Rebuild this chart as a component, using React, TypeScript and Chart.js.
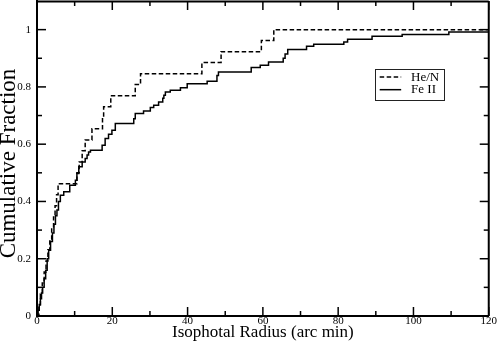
import React, { useEffect, useRef } from 'react';
import { Chart, registerables } from 'chart.js';

Chart.register(...registerables);

// He/N cumulative fraction (step positions)
const heNX = [0, 0.5, 0.9, 1.4, 1.9, 2.4, 2.9, 3.4, 3.9, 4.4, 4.8, 5.2, 5.6, 10.6, 11.2, 12.0, 12.8, 14.6, 17.4, 17.7, 19.6, 26.1, 27.5, 43.8, 48.9, 59.6, 62.9, 120];
const heNY = [0, 0.038, 0.077, 0.115, 0.154, 0.192, 0.231, 0.269, 0.308, 0.346, 0.385, 0.423, 0.462, 0.5, 0.538, 0.577, 0.615, 0.654, 0.692, 0.731, 0.769, 0.808, 0.846, 0.885, 0.923, 0.962, 1.0, 1.0];

// Fe II cumulative fraction (step positions)
const feX = [0, 0.3, 0.6, 0.9, 1.2, 1.5, 1.9, 2.3, 2.7, 3.1, 3.6, 4.1, 4.5, 4.9, 5.3, 5.7, 6.2, 7.1, 8.7, 10.2, 10.6, 11.1, 12.0, 12.8, 13.3, 13.7, 14.2, 17.3, 18.1, 19.0, 19.9, 20.8, 25.7, 26.1, 28.3, 30.1, 31.0, 32.3, 33.4, 33.7, 34.1, 35.4, 38.1, 39.9, 45.2, 47.8, 48.2, 56.9, 59.3, 61.5, 65.4, 65.9, 66.6, 71.6, 73.5, 81.5, 82.5, 89.0, 97.0, 109.4, 120];
const feY = [0, 0.02, 0.04, 0.06, 0.08, 0.1, 0.13, 0.16, 0.2, 0.23, 0.26, 0.29, 0.32, 0.35, 0.37, 0.4, 0.422, 0.434, 0.457, 0.474, 0.498, 0.521, 0.538, 0.55, 0.562, 0.573, 0.579, 0.596, 0.62, 0.635, 0.649, 0.672, 0.689, 0.707, 0.716, 0.728, 0.736, 0.747, 0.76, 0.771, 0.782, 0.788, 0.797, 0.811, 0.82, 0.84, 0.852, 0.868, 0.876, 0.887, 0.9, 0.915, 0.931, 0.942, 0.949, 0.957, 0.966, 0.977, 0.983, 0.992, 0.992];

const seriesLabels = ['He/N', 'Fe II'];
const xMajorTicks = [0, 20, 40, 60, 80, 100, 120];
const xMinorTicks = [10, 30, 50, 70, 90, 110];
const yMajorTicks = [0, 0.2, 0.4, 0.6, 0.8, 1];
const yMinorTicks = [0.1, 0.3, 0.5, 0.7, 0.9];
const xTickLabels = ['0', '20', '40', '60', '80', '100', '120'];
const yTickLabels = ['0', '0.2', '0.4', '0.6', '0.8', '1'];
const xTitle = 'Isophotal Radius (arc min)';
const yTitle = 'Cumulative Fraction';

const FONT = '"Liberation Serif", "DejaVu Serif", serif';

function resetCtx(ctx: CanvasRenderingContext2D) {
  ctx.setTransform(1, 0, 0, 1, 0, 0);
  ctx.globalAlpha = 1;
  ctx.globalCompositeOperation = 'source-over';
  ctx.setLineDash([]);
  ctx.lineDashOffset = 0;
  ctx.shadowColor = 'rgba(0,0,0,0)';
  ctx.shadowBlur = 0;
  ctx.lineCap = 'butt';
  ctx.lineJoin = 'miter';
}

const framePlugin = {
  id: 'graceFrame',
  afterDraw(chart: any) {
    const { ctx, scales } = chart;
    const x = scales.x;
    const y = scales.y;
    const L = x.getPixelForValue(0);
    const R = x.getPixelForValue(120);
    const B = y.getPixelForValue(0);
    const T = y.getPixelForValue(1.1);
    ctx.save();
    resetCtx(ctx);
    ctx.strokeStyle = '#000';
    const seg = (x1: number, y1: number, x2: number, y2: number) => {
      ctx.beginPath();
      ctx.moveTo(x1, y1);
      ctx.lineTo(x2, y2);
      ctx.stroke();
    };
    ctx.lineWidth = 1.5;
    const xt = (vals: number[], len: number) =>
      vals.forEach((v) => {
        const p = x.getPixelForValue(v);
        seg(p, B, p, B - len);
        seg(p, T, p, T + len);
      });
    const yt = (vals: number[], len: number) =>
      vals.forEach((v) => {
        const p = y.getPixelForValue(v);
        seg(L, p, L + len, p);
        seg(R, p, R - len, p);
      });
    xt(xMajorTicks, 9);
    xt(xMinorTicks, 5);
    yt(yMajorTicks, 9);
    yt(yMinorTicks, 5);
    ctx.lineWidth = 2;
    seg(L, B, R, B);
    seg(L, T + 0.5, R, T + 0.5);
    seg(L, T, L, B);
    seg(R, T, R, B);
    ctx.restore();
  },
};

const legendPlugin = {
  id: 'graceLegend',
  afterDatasetsDraw(chart: any) {
    const { ctx, scales } = chart;
    const x = scales.x;
    const y = scales.y;
    ctx.save();
    resetCtx(ctx);
    const seg = (x1: number, y1: number, x2: number, y2: number) => {
      ctx.beginPath();
      ctx.moveTo(x1, y1);
      ctx.lineTo(x2, y2);
      ctx.stroke();
    };
    const bx = x.getPixelForValue(89.7);
    const by = y.getPixelForValue(0.864);
    const bw = 69;
    const bh = 31;
    ctx.lineWidth = 1;
    ctx.strokeStyle = '#222';
    ctx.strokeRect(Math.round(bx) + 0.5, Math.round(by) + 0.5, bw, bh);
    ctx.font = `13px ${FONT}`;
    ctx.fillStyle = '#000';
    ctx.textBaseline = 'middle';
    ctx.textAlign = 'left';
    chart.data.datasets.forEach((ds: any, i: number) => {
      const ly = by + 8.5 + i * 12.6;
      ctx.strokeStyle = '#000';
      ctx.lineWidth = 1.5;
      ctx.setLineDash(ds.borderDash || []);
      seg(bx + 5, ly, bx + 26.5, ly);
      ctx.setLineDash([]);
      ctx.fillText(ds.label, bx + 36.4, ly);
    });

    ctx.save();
    ctx.translate(9, 163.5);
    ctx.rotate(-Math.PI / 2);
    ctx.font = `23px ${FONT}`;
    ctx.textAlign = 'center';
    ctx.textBaseline = 'middle';
    ctx.fillText(yTitle, 0, 0);
    ctx.restore();

    ctx.restore();
  },
};

export default function App() {
  const ref = useRef<HTMLCanvasElement | null>(null);
  useEffect(() => {
    if (!ref.current) return;
    const chart = new Chart(ref.current, {
      type: 'line',
      data: {
        datasets: [
          {
            label: seriesLabels[0],
            data: heNX.map((v, i) => ({ x: v, y: heNY[i] })),
            borderColor: '#000',
            borderWidth: 1.5,
            borderDash: [4.5, 2.5],
            pointRadius: 0,
            stepped: true,
            fill: false,
          },
          {
            label: seriesLabels[1],
            data: feX.map((v, i) => ({ x: v, y: feY[i] })),
            borderColor: '#000',
            borderWidth: 1.5,
            pointRadius: 0,
            stepped: true,
            fill: false,
          },
        ],
      },
      options: {
        animation: false,
        responsive: false,
        maintainAspectRatio: false,
        layout: { padding: { left: 0, right: 8, top: 1, bottom: 0 } },
        plugins: { legend: { display: false }, tooltip: { enabled: false } },
        scales: {
          x: {
            type: 'linear',
            min: 0,
            max: 120,
            afterBuildTicks: (s: any) => {
              s.ticks = xMajorTicks.map((v) => ({ value: v }));
            },
            afterFit: (s: any) => {
              s.height = 34;
            },
            grid: { display: false, drawTicks: false },
            border: { display: true, color: '#000', width: 2 },
            ticks: {
              color: '#000',
              padding: 0,
              maxRotation: 0,
              autoSkip: false,
              font: { family: FONT, size: 11, lineHeight: 1 },
              callback: (_v: any, i: number) => xTickLabels[i],
            },
            title: {
              display: true,
              text: xTitle,
              color: '#000',
              font: { family: FONT, size: 17 },
              padding: { top: 0, bottom: 7 },
            },
          },
          y: {
            type: 'linear',
            min: 0,
            max: 1.1,
            afterBuildTicks: (s: any) => {
              s.ticks = yMajorTicks.map((v) => ({ value: v }));
            },
            afterFit: (s: any) => {
              s.width = 37;
            },
            grid: { display: false, drawTicks: true, tickLength: 6 },
            border: { display: true, color: '#000', width: 2 },
            ticks: {
              color: '#000',
              padding: 0,
              autoSkip: false,
              font: { family: FONT, size: 11, lineHeight: 0.1 },
              callback: (_v: any, i: number) => yTickLabels[i],
            },
          },
        },
      },
      plugins: [legendPlugin, framePlugin],
    } as any);
    return () => chart.destroy();
  }, []);
  return (
    <div style={{ position: 'fixed', left: 0, top: 0, width: 497, height: 350, background: '#fff' }}>
      <canvas ref={ref} width={497} height={350} style={{ width: 497, height: 350 }} />
    </div>
  );
}
